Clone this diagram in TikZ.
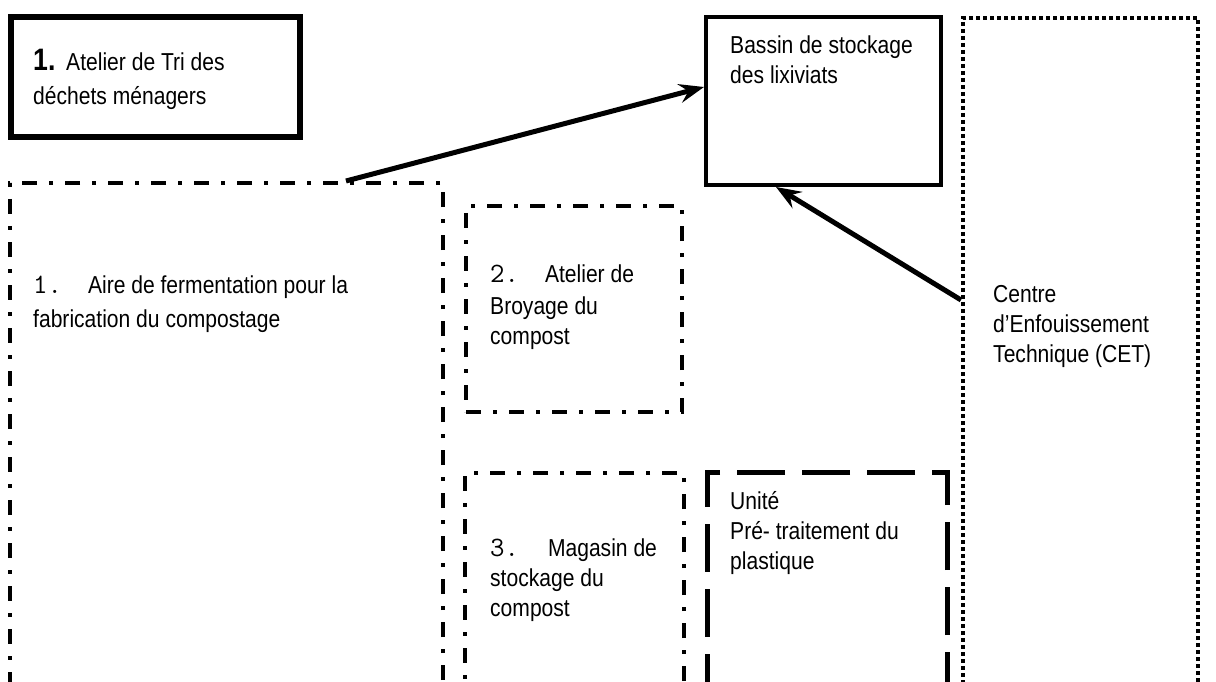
\documentclass[tikz,border=0pt]{standalone}
\usepackage{fontspec}
\setmainfont{Liberation Sans}[FakeStretch=0.86]
\usetikzlibrary{arrows.meta}
\begin{document}
\begin{tikzpicture}[x=1pt,y=-1pt,
  lbl/.style={anchor=base west, inner sep=0pt, align=left, font=\fontsize{24.5}{30}\selectfont},
  boxshape/.style={draw, rectangle, inner sep=0pt},
  solidbox/.style={boxshape, line width=#1},
  dashdotbox/.style={boxshape, line width=4pt, dash pattern=on 15pt off 12pt on 4pt off 12pt},
  longdashbox/.style={boxshape, line width=5pt, dash pattern=on 48pt off 17pt},
  dotbox/.style={boxshape, line width=4pt, dash pattern=on 4pt off 3pt},
  flow/.style={line width=5pt, -{Stealth[length=25pt, width=19pt, inset=9pt]}},
]
\newcommand\numtxt[1]{{\ttfamily\fontsize{28}{30}\selectfont #1}}
\useasboundingbox (0,0) rectangle (1216,682);
% boxes
\node[solidbox=6pt, minimum width=289pt, minimum height=120pt] (tri) at (155.5,77) {};
\node[dashdotbox, minimum width=433pt, minimum height=537pt] (aire) at (226.5,451.5) {};
\node[dashdotbox, minimum width=216pt, minimum height=206pt] (broyage) at (574,309) {};
\node[dashdotbox, minimum width=219pt, minimum height=247pt] (magasin) at (574.5,596.5) {};
\node[longdashbox, minimum width=240pt, minimum height=248pt] (unite) at (827,596) {};
\node[solidbox=4pt, minimum width=235pt, minimum height=168pt] (bassin) at (823.5,101) {};
\node[dotbox, minimum width=235pt, minimum height=702pt] (cet) at (1080.5,369) {};
% texts (anchor at the baseline of the last line)
\node[lbl] (tritxt) at (33,105) {{\fontsize{31}{30}\selectfont\bfseries 1.}\hspace{3pt} Atelier de Tri des\\[4pt]déchets ménagers};
\node[lbl] (airetxt) at (33,327) {\numtxt{1.}\hspace{26pt}Aire de fermentation pour la\\[4pt]fabrication du compostage};
\node[lbl] (broytxt) at (490,344) {\numtxt{2.}\hspace{26pt}Atelier de\\[2pt]Broyage du\\compost};
\node[lbl] (magtxt) at (490,616) {\numtxt{3.}\hspace{29pt}Magasin de\\stockage du\\compost};
\node[lbl] (unitxt) at (730,569) {Unité\\Pré- traitement du\\plastique};
\node[lbl] (bastxt) at (730,84) {Bassin de stockage\\des lixiviats};
\node[lbl] (cettxt) at (993,362) {Centre\\d’Enfouissement\\Technique (CET)};
% connectors
\coordinate (a1s) at ([xshift=338pt]aire.north west);
\coordinate (a1e) at ([yshift=14pt]bassin.west);
\coordinate (a2s) at ([yshift=-284pt]cet.north west);
\coordinate (a2e) at ([xshift=72pt]bassin.south west);
\draw[flow] (a1s) -- (a1e);
\draw[flow] (a2s) -- (a2e);
\end{tikzpicture}
\end{document}
